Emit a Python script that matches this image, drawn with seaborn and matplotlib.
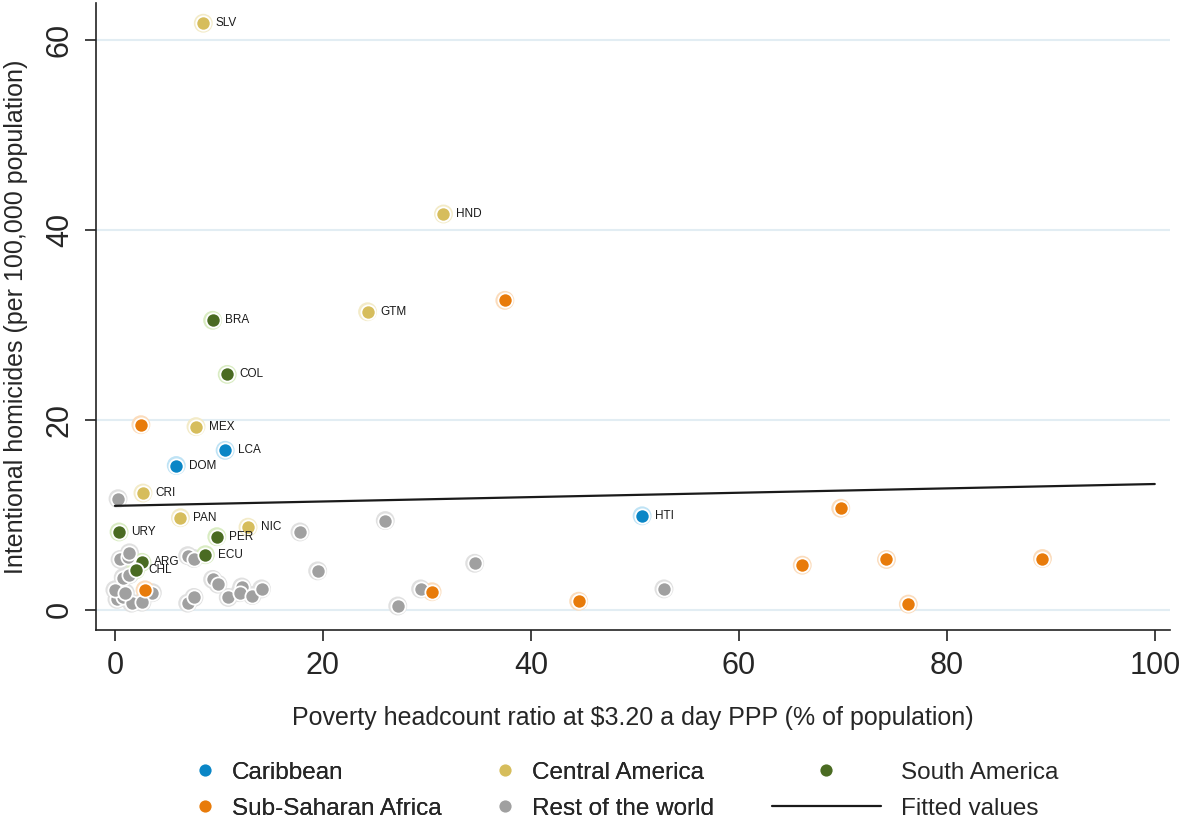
"""Homicidios vs pobreza por región"""

import numpy as np
import pandas as pd
import seaborn as sns
import matplotlib.pyplot as plt
from matplotlib.lines import Line2D

# Datos

carib_iso = ['DOM', 'LCA', 'HTI']
carib_x = [5.9, 10.6, 50.7]
carib_y = [15.2, 16.8, 9.9]

camer_iso = ['SLV', 'HND', 'GTM', 'MEX', 'CRI', 'PAN', 'NIC']
camer_x = [8.5, 31.6, 24.3, 7.8, 2.7, 6.3, 12.8]
camer_y = [61.8, 41.7, 31.4, 19.3, 12.3, 9.7, 8.7]

samer_iso = ['BRA', 'COL', 'URY', 'PER', 'ECU', 'ARG', 'CHL']
samer_x = [9.4, 10.8, 0.4, 9.8, 8.7, 2.6, 2.0]
samer_y = [30.5, 24.8, 8.2, 7.7, 5.8, 5.0, 4.2]

ssa_x = [37.5, 2.5, 69.8, 66.1, 74.2, 89.2, 76.3, 44.6, 30.5, 2.9]
ssa_y = [32.6, 19.5, 10.7, 4.7, 5.3, 5.4, 0.6, 0.9, 1.9, 2.1]

row_x = [0.3, 17.8, 26.0, 19.5, 34.6, 52.8, 29.4, 27.2, 7.0, 7.6,
         0.5, 1.3, 1.4, 0.8, 1.4, 3.6, 0.2, 0.8, 1.6, 2.6,
         0.0, 1.0, 7.0, 7.6, 9.4, 9.9, 10.9, 12.2, 12.0, 13.2, 14.1]
row_y = [11.7, 8.2, 9.4, 4.1, 4.9, 2.2, 2.2, 0.4, 5.7, 5.4,
         5.3, 5.6, 6.0, 3.4, 3.7, 1.8, 1.1, 1.3, 0.7, 0.8,
         2.1, 1.8, 0.7, 1.3, 3.2, 2.7, 1.3, 2.4, 1.8, 1.5, 2.2]

fit_x = [0, 100]
fit_y = [10.95, 13.25]

colores = {'Caribbean': '#0a86c6', 'Central America': '#d6bd5c',
           'South America': '#4a6b22', 'Sub-Saharan Africa': '#e87b0a',
           'Rest of the world': '#a0a0a0'}
anillos = {'Caribbean': '#bfe3f5', 'Central America': '#f3ebc8',
           'South America': '#d9ecc2', 'Sub-Saharan Africa': '#fbdcbc',
           'Rest of the world': '#e0e0e0'}

partes = [
    pd.DataFrame({'x': carib_x, 'y': carib_y, 'iso': carib_iso, 'region': 'Caribbean'}),
    pd.DataFrame({'x': camer_x, 'y': camer_y, 'iso': camer_iso, 'region': 'Central America'}),
    pd.DataFrame({'x': samer_x, 'y': samer_y, 'iso': samer_iso, 'region': 'South America'}),
    pd.DataFrame({'x': ssa_x, 'y': ssa_y, 'iso': '', 'region': 'Sub-Saharan Africa'}),
    pd.DataFrame({'x': row_x, 'y': row_y, 'iso': '', 'region': 'Rest of the world'}),
]
df = pd.concat(partes, ignore_index=True)

# Grafica

sns.set_style('white')
plt.rcParams['font.family'] = ['Liberation Sans', 'DejaVu Sans']

fig = plt.figure(figsize=(11.81, 8.21), dpi=100)
ax = fig.add_axes([0.081, 0.233, 0.91, 0.763])

for y in [0, 20, 40, 60]:
    ax.axhline(y, color='#e2edf3', lw=1.5, zorder=0)

orden_dibujo = ['Rest of the world', 'Sub-Saharan Africa', 'Caribbean',
                'Central America', 'South America']
for reg in orden_dibujo:
    sub = df[df['region'] == reg]
    sns.scatterplot(data=sub, x='x', y='y', ax=ax, s=185, color=anillos[reg],
                    edgecolor='none', zorder=2, legend=False)
    sns.scatterplot(data=sub, x='x', y='y', ax=ax, s=105, color=colores[reg],
                    edgecolor='white', linewidth=1.3, zorder=3, legend=False)

sns.lineplot(x=fit_x, y=fit_y, ax=ax, color='#1a1a1a', lw=1.6, zorder=4)

for _, r in df[df['iso'] != ''].iterrows():
    ax.annotate(r['iso'], (r['x'], r['y']), xytext=(9, 0), textcoords='offset points',
                fontsize=8.5, va='center', ha='left', color='#1a1a1a', zorder=5)

ax.set_xlim(-1.85, 101.5)
ax.set_ylim(-2.1, 63.9)
ax.set_xticks([0, 20, 40, 60, 80, 100])
ax.set_yticks([0, 20, 40, 60])
ax.tick_params(axis='both', labelsize=22, length=8, width=1.2, color='#222222',
               direction='out', bottom=True, left=True, pad=7)
plt.setp(ax.get_yticklabels(), rotation=90, va='center')
for s in ['top', 'right']:
    ax.spines[s].set_visible(False)
for s in ['left', 'bottom']:
    ax.spines[s].set_color('#222222')
    ax.spines[s].set_linewidth(1.2)

ax.set_xlabel('Poverty headcount ratio at $3.20 a day PPP (% of population)',
              fontsize=18, labelpad=18)
ax.set_ylabel('Intentional homicides (per 100,000 population)', fontsize=18, labelpad=12)

def punto(reg):
    return Line2D([], [], marker='o', ls='none', markersize=10,
                  markerfacecolor=colores[reg], markeredgecolor='white',
                  markeredgewidth=1.2)

h1 = [punto('Caribbean'), punto('Sub-Saharan Africa'),
      punto('Central America'), punto('Rest of the world')]
l1 = ['Caribbean', 'Sub-Saharan Africa', 'Central America', 'Rest of the world']
leg1 = fig.legend(h1, l1, ncol=2, loc='upper left', bbox_to_anchor=(0.145, 0.099),
                  frameon=False, fontsize=17.5, handlelength=1.0, handletextpad=0.6,
                  columnspacing=2.1, labelspacing=0.58)
fig.add_artist(leg1)
h2 = [punto('South America'), Line2D([], [], color='#1a1a1a', lw=1.6)]
l2 = ['South America', 'Fitted values']
fig.legend(h2, l2, ncol=1, loc='upper left', bbox_to_anchor=(0.635, 0.099),
           frameon=False, fontsize=17.5, handlelength=4.5, handletextpad=0.8,
           labelspacing=0.58)

plt.savefig('out.png', dpi=100)
